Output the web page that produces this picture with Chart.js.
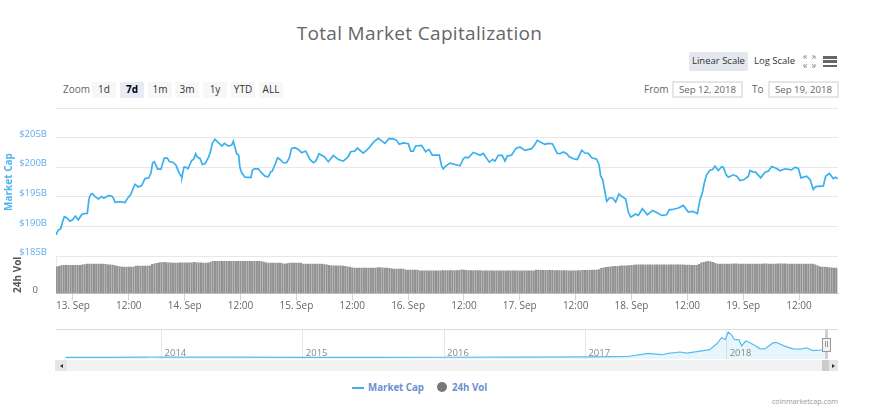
<!DOCTYPE html>
<html><head><meta charset="utf-8">
<style>
html,body{margin:0;padding:0;background:#fff;width:875px;height:414px;overflow:hidden;font-family:"Open Sans",sans-serif}
canvas{position:absolute;left:0}
.t{position:absolute;white-space:nowrap;line-height:1}
.b{position:absolute;top:82px;height:16px;line-height:15px;text-align:center;background:#f7f7f7;color:#333;font-size:10px;border-radius:2px}
.in{position:absolute;top:81px;width:67px;height:13px;border:2px solid #e6e6e6;text-align:center;color:#666;font-size:9.6px;line-height:13px}
.d{position:absolute}
</style>
</head><body>
<div class="t" style="left:0;width:839px;text-align:center;top:24px;font-size:19px;color:#666;font-weight:500;letter-spacing:.33px">Total Market Capitalization</div>
<div class="t" style="left:63px;top:84px;font-size:10px;color:#666">Zoom</div>
<div class="b" style="left:92px;width:24px">1d</div>
<div class="b" style="left:120px;width:24px;background:#e6ebf5;font-weight:700;color:#000">7d</div>
<div class="b" style="left:148px;width:24px">1m</div>
<div class="b" style="left:175px;width:24px">3m</div>
<div class="b" style="left:203px;width:24px">1y</div>
<div class="b" style="left:231px;width:24px">YTD</div>
<div class="b" style="left:259px;width:24px">ALL</div>
<div class="d" style="left:689px;top:52px;width:59px;height:19px;background:#e4e8ee;border-radius:2px"></div>
<div class="t" style="left:692px;top:56px;font-size:9.5px;color:#333">Linear Scale</div>
<div class="t" style="left:754px;top:56px;font-size:9.5px;color:#333">Log Scale</div>
<svg class="d" style="left:803px;top:55px" width="13" height="13" viewBox="0 0 13 13" fill="none" stroke="#999" stroke-width="1"><path d="M1 4V1H4M9 1H12V4M12 9V12H9M4 12H1V9M1 1L4 4M12 1L9 4M12 12L9 9M1 12L4 9"/></svg>
<div class="d" style="left:823px;top:56px;width:14px;height:2.6px;background:#666"></div>
<div class="d" style="left:823px;top:60.4px;width:14px;height:2.6px;background:#666"></div>
<div class="d" style="left:823px;top:64.8px;width:14px;height:2.6px;background:#666"></div>
<div class="t" style="left:644px;top:84px;font-size:10px;color:#666">From</div>
<div class="in" style="left:672px">Sep 12, 2018</div>
<div class="t" style="left:752px;top:84px;font-size:10px;color:#666">To</div>
<div class="in" style="left:768px">Sep 19, 2018</div>

<canvas id="main" width="875" height="320" style="top:0;width:875px;height:320px"></canvas>
<canvas id="nav" width="875" height="31" style="top:328px;width:875px;height:31px"></canvas>

<div class="d" style="left:825px;top:329px;width:3px;height:30px;background:#c9d0df"></div>
<div class="d" style="left:822px;top:338px;width:7px;height:12px;background:#f2f2f2;border:1px solid #999"></div>
<div class="d" style="left:825px;top:341px;width:1px;height:6px;background:#999"></div>
<div class="d" style="left:827px;top:341px;width:1px;height:6px;background:#999"></div>
<div class="d" style="left:55px;top:360px;width:783px;height:11px;background:#f2f2f2"></div>
<div class="d" style="left:55px;top:360px;width:12px;height:11px;background:#e6e6e6"></div>
<div class="d" style="left:59.5px;top:363.5px;width:0;height:0;border-top:2.5px solid transparent;border-bottom:2.5px solid transparent;border-right:3px solid #333"></div>
<div class="d" style="left:822px;top:360px;width:7px;height:11px;background:#ccc"></div>
<div class="d" style="left:829px;top:360px;width:9px;height:11px;background:#e6e6e6"></div>
<div class="d" style="left:832px;top:363.5px;width:0;height:0;border-top:2.5px solid transparent;border-bottom:2.5px solid transparent;border-left:3px solid #333"></div>

<div class="d" style="left:352px;top:387px;width:12px;height:2px;background:#3ab0ee"></div>
<div class="t" style="left:368px;top:383px;font-size:9.7px;font-weight:700;color:#6b8fd0">Market Cap</div>
<div class="d" style="left:437px;top:382px;width:10px;height:10px;border-radius:50%;background:#777"></div>
<div class="t" style="left:452px;top:383px;font-size:9.7px;font-weight:700;color:#6b8fd0">24h Vol</div>
<div class="t" style="right:37px;top:398px;font-size:7.2px;color:#999">coinmarketcap.com</div>

<script src="https://cdn.jsdelivr.net/npm/chart.js@4"></script>
<script>
// hours after 13 Sep 2018 00:00
const capHours=[-3.65,-3.15,-2.65,-2.22,-1.86,-1.36,-0.65,-0.07,0.5,1.15,1.86,2.22,3.08,3.44,3.8,4.15,4.73,5.44,6.16,6.66,7.59,8.31,8.67,9.03,10.1,11.17,11.67,12.39,13.32,14.04,14.75,15.47,16.33,16.76,17.12,17.48,18.19,18.91,19.62,20.27,20.7,21.56,22.13,22.63,23.21,23.42,23.85,24.21,24.71,25.5,25.93,26.36,26.71,27.29,27.79,28.36,29.08,29.58,29.94,30.51,31.23,32.01,32.52,33.38,34.09,34.45,35.17,35.6,35.88,36.24,36.96,38.24,38.53,38.89,39.82,40.32,41.25,41.97,42.47,42.83,43.4,43.97,44.48,45.19,45.91,46.48,46.98,47.7,48.41,49.13,49.99,50.56,50.92,51.63,52.14,52.85,54,54.86,55.93,57,58.08,59.15,59.66,60.59,61.09,62.38,63.45,64.67,65.6,67.03,67.89,68.82,69.54,70.11,70.97,72.05,72.55,73.12,73.62,74.91,75.77,76.49,77.2,78.71,79.21,79.57,80.07,81,82.07,83.15,83.86,84.37,84.94,86.01,86.73,87.45,88.16,89.45,90.17,90.67,91.38,92.24,92.81,93.32,94.25,95.18,96.04,97.11,98.55,99.26,99.76,100.69,101.41,102.13,102.99,104.06,104.63,105.35,106.07,106.64,107.51,108.37,109.3,110.01,110.73,111.45,112.52,113.02,113.38,113.81,114.67,115.24,115.96,116.6,117.32,117.89,118.75,119.32,119.83,120.4,120.9,121.47,122.33,123.41,124.55,125.41,126.49,127.56,128.13,128.63,130.07,131.14,132.21,133.15,134.15,134.72,135.22,135.65,136.15,136.87,137.44,137.94,138.66,139.38,139.73,140.31,140.81,141.88,142.6,143.32,144.18,145.11,145.46,146.04,146.68,147.76,148.69,149.4,150.12,151.19,151.91,152.98,154.42,155.13,155.85,156.42,157.64,158.36,159.07,159.57,161.22,161.72,162.51,163.37,163.87,164.3];
// market cap, $B
const capValues=[188.57,189.42,189.59,190.83,191.63,191.46,190.89,191.12,191.74,191.12,191.97,192.14,192.19,194.69,195.37,195.54,195.03,194.63,195.03,194.74,195.2,195.14,194.8,194.06,194.18,194.01,194.69,195.37,197.12,196.67,196.89,198.08,198.2,199.05,200.75,200.92,199.67,199.67,201.54,201.54,200.97,200.8,200.35,199.33,198.48,198.37,200.01,200.01,199.73,201.14,201.37,202.28,201.71,201.48,200.46,200.58,201.6,202.73,204.09,204.71,204.15,203.58,204.03,203.58,203.75,204.37,202.28,202.01,199.9,199.05,198.31,198.25,199.44,199.73,199.73,199.22,198.48,198.37,199.22,199.33,200.46,201.6,201.31,200.75,200.75,201.6,203.18,203.3,203.01,202.45,202.73,201.88,201.31,200.75,201.03,202.28,201.77,200.92,201.99,201.31,201.03,201.77,202.62,202.73,203.24,202.39,203.13,204.31,204.88,204.03,204.82,204.77,204.54,203.86,204.09,203.97,202.73,202.73,203.58,203.69,202.62,203.01,202.05,202.05,200.18,199.73,200.18,200.69,200.46,200.24,201.43,201.71,201.6,202.5,202.28,202.01,202.33,200.86,201.31,201.03,202.01,202.01,201.03,201.88,202.05,203.18,203.41,202.84,203.13,203.86,204.54,204.15,203.86,204.03,203.97,202.33,202.28,202.56,202.28,201.77,201.43,201.31,202.84,202.39,202.33,201.6,201.37,200.46,198.48,197.91,194.23,194.8,194.8,194.12,195.48,195.08,194.63,192.42,191.57,191.85,192.08,191.85,192.99,191.97,192.7,192.36,191.85,191.97,192.82,192.82,193.1,193.55,192.42,192.53,192.19,194.52,195.65,197.35,198.76,199.5,199.61,200.18,199.44,200.07,200.01,198.76,198.31,198.71,198.48,197.74,197.91,198.48,199.44,199.22,199.16,198.2,199.16,199.33,200.12,199.78,199.39,199.73,199.56,200.01,199.78,198.2,198.48,197.91,196.22,196.73,196.84,198.48,198.93,198.08,198.31,198.03];
// 24h volume, $B, one bar each half hour from volumeFirstHour
const volumeFirstHour=-3.5, volumeStepHours=0.5;
const volumeValues=[
13.3,13.5,13.9,14,14,14,14,14,14,14,
14,14.2,14.4,14.6,14.65,14.65,14.65,14.65,14.65,14.65,
14.65,14.5,14.3,14.2,14.1,13.9,13.6,13.4,13.15,13.15,
13.15,13.15,13.15,13.15,13.65,13.65,13.65,13.65,13.65,13.65,
13.8,14.5,14.8,15,15.2,15.4,15.48,15.4,15.3,15.2,
15.15,15.15,15.15,15.2,15.2,15.2,15.3,15.3,15.3,15.48,
15.4,15.3,15.2,15.15,15.15,15.15,15.5,15.98,15.98,15.98,
15.98,15.98,15.98,15.98,15.98,15.98,15.98,15.98,15.98,15.98,
15.98,15.98,15.98,15.98,15.98,15.98,15.98,15.98,15.9,15.6,
15.3,15.15,15.15,15.15,15.15,15.15,15.15,14.9,14.65,14.9,
15.15,15.15,15.15,15.15,15.15,15.15,14.65,14.65,14.65,14.65,
14.65,14.65,14.65,14.65,14.6,14.4,14.2,13.95,13.82,13.8,
13.8,13.75,13.7,13.65,13.5,13.3,13.1,12.8,12.65,12.65,
12.65,12.65,12.65,12.65,12.65,12.65,12.65,12.7,12.9,12.9,
12.8,12.7,12.65,12.5,12.3,12.15,12.15,12.15,12.15,12.15,
11.65,11.65,11.65,11.65,11.65,11.65,11.32,11.32,11.32,11.32,
11.32,11.32,11.32,11.32,11.32,11.32,11.35,11.35,11.35,11.35,
11.35,11.35,11.35,11.5,11.82,11.6,11.5,11.45,11.4,11.4,
11.4,11.35,11.35,11.32,11.32,11.32,11.32,11.32,11.32,11.32,
11.32,11.32,11.32,11.32,11.32,11.32,11.32,11.32,11.32,11.32,
11.32,11.32,11.32,11.32,11.32,11.32,11.65,11.6,11.55,11.5,
11.5,11.5,11.48,11.48,11.45,11.45,11.4,11.4,11.35,11.35,
11.32,11.32,11.32,11.32,11.4,11.45,11.5,11.5,11.55,11.55,
11.6,11.6,11.65,11.9,12.48,12.8,13,13.2,13.3,13.4,
13.48,13.55,13.6,13.7,13.75,13.82,13.9,14,14.1,14.2,
14.3,14.3,14.32,14.32,14.32,14.32,14.32,14.32,14.32,14.32,
14.32,14.32,14.32,14.32,14.3,14.3,14.3,14.25,14.2,14.2,
14.15,14.1,14.1,14.05,14,13.98,14.5,15.2,15.48,15.8,
15.98,15.7,15.48,15,14.65,14.65,14.65,14.65,14.65,14.65,
14.65,14.7,14.7,14.65,14.65,14.65,14.65,14.65,14.65,14.65,
14.65,14.65,14.65,14.65,14.7,14.7,14.65,14.65,14.65,14.65,
14.7,14.7,14.7,14.7,14.65,14.65,14.65,14.65,14.65,14.65,
14.65,14.65,14.65,14.65,14.65,14.65,14.2,13.7,13.3,13.2,
13.1,13,12.9,12.8,12.7,12.65];
const xTickHours=[0,12,24,36,48,60,72,84,96,108,120,132,144,156];
const xTickLabels=['13. Sep','12:00','14. Sep','12:00','15. Sep','12:00','16. Sep','12:00','17. Sep','12:00','18. Sep','12:00','19. Sep','12:00'];
// navigator: whole history
const navYears=[2013.32,2013.6,2013.88,2013.93,2014,2014.5,2015,2015.5,2016,2016.5,2017,2017.2,2017.3,2017.4,2017.445,2017.54,2017.587,2017.67,2017.717,2017.8,2017.88,2017.93,2017.964,2017.99,2018.011,2018.035,2018.054,2018.087,2018.106,2018.135,2018.165,2018.2,2018.235,2018.27,2018.33,2018.354,2018.41,2018.47,2018.52,2018.565,2018.61,2018.67,2018.7];
const navValues=[1.5,1.5,13,14,10,8,5,3.5,7,10,17,25,30,99,131,88,131,175,142,197,252,440,635,580,820,730,580,570,375,530,475,385,285,275,475,480,365,275,265,310,220,240,250];
const navYearLabels=[2014,2015,2016,2017,2018];

Chart.defaults.font.family='"Open Sans",sans-serif';
Chart.defaults.animation=false;
const fixW=s=>{s.width=56};
new Chart(document.getElementById('main'),{
  type:'line',
  data:{datasets:[
    {type:'line',label:'Market Cap',yAxisID:'y',data:capHours.map((h,i)=>({x:h,y:capValues[i]})),borderColor:'#3ab0ee',borderWidth:1.7,pointRadius:0,tension:0},
    {type:'bar',label:'24h Vol',yAxisID:'v',data:volumeValues.map((v,i)=>({x:volumeFirstHour+i*volumeStepHours,y:v})),backgroundColor:'#929292',barThickness:1.5}
  ]},
  options:{
    responsive:false,devicePixelRatio:1,
    layout:{padding:{top:108,right:37,left:0,bottom:0}},
    plugins:{legend:{display:false},tooltip:{enabled:false}},
    scales:{
      x:{type:'linear',offset:false,min:-3.65,max:164.37,afterFit:s=>{s.height=26.5},
        afterBuildTicks:s=>{s.ticks=xTickHours.map(value=>({value}))},
        border:{color:'#ccd6eb'},
        grid:{offset:false,drawOnChartArea:false,color:'#ccd6eb',tickLength:7},
        ticks:{autoSkip:false,maxRotation:0,padding:0,color:'#666',font:{size:10},
          callback:v=>xTickLabels[xTickHours.indexOf(v)]}},
      y:{type:'linear',position:'left',stack:'p',stackWeight:148,min:185,max:210,weight:1,afterFit:fixW,
        border:{display:false},
        grid:{color:'#e8e8e8',drawTicks:false},
        title:{display:true,text:'Market Cap',color:'#4fb3ef',font:{size:10,weight:'bold'},padding:{top:3,bottom:0}},
        ticks:{stepSize:5,padding:9,labelOffset:-3.5,color:'#62aef0',font:{size:9.5},
          callback:v=>v>=210?'':'$'+v+'B'}},
      v:{type:'linear',position:'left',stack:'p',stackWeight:37.5,min:0,max:18.65,weight:0,afterFit:fixW,
        afterBuildTicks:s=>{s.ticks=[{value:0}]},
        border:{display:true,color:'#e6ebf5'},
        grid:{display:false},
        title:{display:true,text:'24h Vol',color:'#555',font:{size:10,weight:'bold'},padding:{top:12,bottom:0}},
        ticks:{padding:10,labelOffset:-3.5,color:'#666',font:{size:9.5},callback:v=>String(v)}}
    }
  }
});
new Chart(document.getElementById('nav'),{
  type:'line',
  data:{datasets:[{label:'Market Cap',data:navYears.map((h,i)=>({x:h,y:navValues[i]})),borderColor:'#55bcf0',borderWidth:1.2,pointRadius:0,tension:0,fill:'start',backgroundColor:'rgba(58,176,238,0.12)'}]},
  options:{
    responsive:false,devicePixelRatio:1,
    layout:{padding:{top:1.5,right:37,left:56,bottom:0}},
    plugins:{legend:{display:false},tooltip:{enabled:false}},
    scales:{
      x:{type:'linear',min:2013.253,max:2018.788,afterFit:s=>{s.height=0},
        border:{display:false},
        grid:{color:'#e6e6e6',drawTicks:false},
        ticks:{stepSize:1,includeBounds:false,autoSkip:false,maxRotation:0,align:'start',mirror:true,labelOffset:3,padding:0,color:'#888',font:{size:9.5},z:1,
          callback:v=>navYearLabels.includes(v)?String(v):''}},
      y:{type:'linear',min:-50,max:900,afterFit:s=>{s.width=0},
        afterBuildTicks:s=>{s.ticks=[{value:900}]},
        border:{display:false},
        grid:{color:'#dcdcdc',drawTicks:false},
        ticks:{display:false}}
    }
  }
});
</script>
</body></html>
